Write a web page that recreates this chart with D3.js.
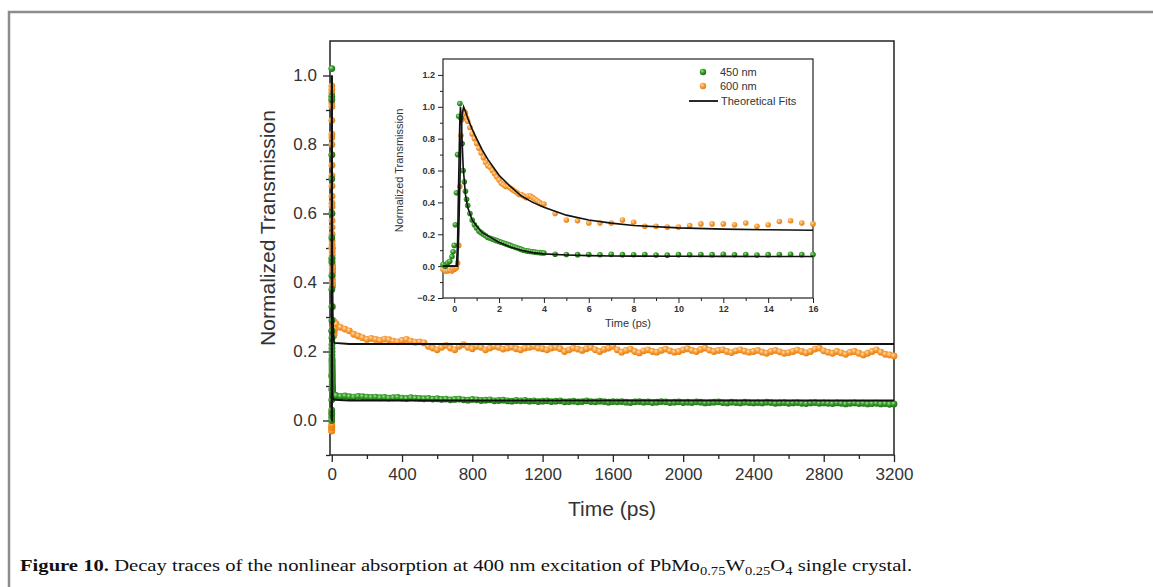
<!DOCTYPE html>
<meta charset="utf-8">
<style>
body { margin: 0; background: #fff; }
svg { display: block; font-family: "Liberation Sans", Arial, sans-serif; }
</style>
<svg width="1153" height="587"></svg>
<script src="https://cdn.jsdelivr.net/npm/d3@7/dist/d3.min.js"></script>
<script>
// ---- data ----
const seriesNames = ["450 nm", "600 nm"];
const fitName = "Theoretical Fits";

// early delay times (ps), shared by both probe wavelengths
const tEarly = [-0.5, -0.4, -0.3, -0.2, -0.1, -0.05, 0, 0.05, 0.1, 0.15, 0.2, 0.25, 0.3, 0.35, 0.4, 0.45, 0.5, 0.55,
  0.6, 0.7, 0.8, 0.9, 1.0, 1.1, 1.2, 1.3, 1.4, 1.5, 1.6, 1.7, 1.8, 1.9, 2.0, 2.1, 2.2, 2.3, 2.4, 2.5, 2.6, 2.7, 2.8, 2.9,
  3.0, 3.1, 3.2, 3.3, 3.4, 3.5, 3.6, 3.7, 3.8, 3.9, 4.0];
const v450Early = [0.01, 0.0, 0.02, 0.03, 0.06, 0.09, 0.13, 0.26, 0.46, 0.70, 0.94, 1.02, 0.93, 0.77, 0.60, 0.53, 0.47, 0.42,
  0.38, 0.33, 0.29, 0.26, 0.24, 0.22, 0.21, 0.20, 0.19, 0.18, 0.175, 0.17, 0.165, 0.16, 0.155, 0.15, 0.145, 0.14, 0.135, 0.13, 0.125, 0.12, 0.115, 0.11,
  0.105, 0.10, 0.097, 0.094, 0.092, 0.09, 0.088, 0.086, 0.085, 0.083, 0.082];
const v600Early = [-0.02, -0.03, -0.03, -0.025, -0.03, -0.02, -0.02, -0.015, -0.01, 0.02, 0.13, 0.50, 0.82, 0.92, 0.95, 0.97, 0.96, 0.93,
  0.91, 0.87, 0.83, 0.80, 0.77, 0.74, 0.71, 0.68, 0.65, 0.63, 0.62, 0.60, 0.58, 0.56, 0.54, 0.52, 0.51, 0.50, 0.50, 0.49, 0.48, 0.47, 0.46, 0.45,
  0.45, 0.44, 0.43, 0.44, 0.44, 0.43, 0.42, 0.41, 0.40, 0.39, 0.39];

// 4.5 .. 16 ps, every 0.5 ps
const tMid = d3.range(4.5, 16.01, 0.5);
const v450Mid = [0.075, 0.073, 0.072, 0.073, 0.071, 0.074, 0.072, 0.071, 0.073, 0.07, 0.069, 0.072,
  0.071, 0.073, 0.072, 0.074, 0.071, 0.073, 0.07, 0.072, 0.073, 0.074, 0.072, 0.073];
const v600Mid = [0.33, 0.29, 0.285, 0.27, 0.27, 0.27, 0.29, 0.275, 0.25, 0.25, 0.245, 0.245,
  0.255, 0.265, 0.265, 0.265, 0.26, 0.27, 0.25, 0.26, 0.28, 0.285, 0.27, 0.265];

// 25 .. 3200 ps, every 25 ps
const tLong = d3.range(25, 3201, 25);
const v450Long = [
  0.072, 0.07, 0.071, 0.069, 0.068, 0.07, 0.069, 0.068,
  0.067, 0.068, 0.066, 0.067, 0.065, 0.066, 0.067, 0.065, 0.064, 0.066, 0.065, 0.064,
  0.063, 0.064, 0.062, 0.063, 0.061, 0.062, 0.06, 0.061, 0.062, 0.06, 0.059, 0.061,
  0.06, 0.058, 0.059, 0.06, 0.057, 0.058, 0.059, 0.057, 0.056, 0.058, 0.057, 0.058, 0.056, 0.057, 0.055, 0.056,
  0.057, 0.055, 0.056, 0.057, 0.054, 0.055, 0.056, 0.054, 0.055, 0.057, 0.055, 0.054, 0.056, 0.055, 0.053, 0.055,
  0.054, 0.055, 0.053, 0.052, 0.054, 0.055, 0.053, 0.054, 0.052, 0.053, 0.055, 0.054, 0.052, 0.053, 0.054, 0.052,
  0.053, 0.052, 0.054, 0.053, 0.051, 0.052, 0.053, 0.054, 0.052, 0.051, 0.053, 0.052, 0.051, 0.053, 0.052, 0.051,
  0.052, 0.051, 0.053, 0.052, 0.05, 0.051, 0.052, 0.05, 0.051, 0.052, 0.05, 0.049, 0.051, 0.052, 0.05, 0.051,
  0.05, 0.049, 0.051, 0.05, 0.048, 0.05, 0.051, 0.049, 0.05, 0.048, 0.049, 0.05, 0.048, 0.049, 0.047, 0.048];
const v600Long = [
  0.28, 0.27, 0.265, 0.26, 0.25, 0.245, 0.24, 0.235,
  0.238, 0.235, 0.232, 0.236, 0.234, 0.23, 0.228, 0.232, 0.235, 0.23, 0.227, 0.228,
  0.225, 0.215, 0.21, 0.205, 0.212, 0.218, 0.21, 0.205, 0.215, 0.22, 0.212, 0.208,
  0.215, 0.212, 0.205, 0.21, 0.215, 0.212, 0.207, 0.21, 0.213, 0.208, 0.205, 0.21, 0.212, 0.215, 0.21, 0.208,
  0.205, 0.21, 0.212, 0.208, 0.2, 0.205, 0.21, 0.207, 0.203, 0.208, 0.212, 0.205, 0.2, 0.206, 0.21, 0.215,
  0.205, 0.198, 0.203, 0.207, 0.2, 0.196, 0.202, 0.205, 0.2, 0.198, 0.203, 0.207, 0.202, 0.198, 0.2, 0.205,
  0.208, 0.203, 0.2, 0.206, 0.21, 0.204, 0.2, 0.203, 0.205, 0.2, 0.197, 0.202, 0.205, 0.201, 0.198, 0.2,
  0.203, 0.198, 0.195, 0.2, 0.203, 0.199, 0.195, 0.197, 0.2, 0.204, 0.2, 0.196, 0.2, 0.207, 0.21, 0.202,
  0.198, 0.195, 0.2, 0.196, 0.192, 0.198, 0.2, 0.195, 0.19, 0.195, 0.2, 0.205, 0.198, 0.192, 0.19, 0.187];

// theoretical fit curves
const tFit450 = [-0.5, 0, 0.1, 0.15, 0.2, 0.25, 0.28, 0.32, 0.4, 0.5, 0.6, 0.8, 1, 1.25, 1.5, 2, 2.5, 3, 3.5, 4, 5, 6, 7, 8, 10, 12, 14, 16, 100, 3200];
const fit450 = [0, 0, 0, 0.15, 0.55, 0.92, 1.0, 0.90, 0.62, 0.45, 0.37, 0.29, 0.25, 0.21, 0.19, 0.15, 0.12, 0.10, 0.085, 0.077, 0.07, 0.066, 0.064, 0.063, 0.062, 0.061, 0.06, 0.06, 0.058, 0.058];
const tFit600 = [-0.5, 0, 0.1, 0.15, 0.2, 0.25, 0.3, 0.35, 0.42, 0.5, 0.6, 0.8, 1, 1.25, 1.5, 2, 2.5, 3, 3.5, 4, 5, 6, 7, 8, 10, 12, 14, 16, 100, 3200];
const fit600 = [0, 0, 0, 0, 0.2, 0.5, 0.8, 0.95, 1.0, 0.97, 0.93, 0.86, 0.80, 0.73, 0.67, 0.57, 0.50, 0.44, 0.40, 0.37, 0.32, 0.29, 0.27, 0.255, 0.24, 0.232, 0.228, 0.225, 0.222, 0.222];

// axis ticks
const mainXTicks = [0, 400, 800, 1200, 1600, 2000, 2400, 2800, 3200];
const mainYTicks = [0.0, 0.2, 0.4, 0.6, 0.8, 1.0];
const insetXTicks = [0, 2, 4, 6, 8, 10, 12, 14, 16];
const insetYTicks = [-0.2, 0.0, 0.2, 0.4, 0.6, 0.8, 1.0, 1.2];

// ---- drawing ----
const svg = d3.select("svg");
const green = "#2f8f22", orange = "#f7941d";

const zip = (t, v) => t.map((d, i) => ({x: d, y: v[i]}));
const pts450 = zip(tEarly, v450Early).concat(zip(tMid, v450Mid));
const pts600 = zip(tEarly, v600Early).concat(zip(tMid, v600Mid));
const long450 = pts450.concat(zip(tLong, v450Long));
const long600 = pts600.concat(zip(tLong, v600Long));
const fitA = zip(tFit450, fit450), fitB = zip(tFit600, fit600);

// sphere-look markers
const defs = svg.append("defs");
function ball(id, hi, mid, edge) {
  const g = defs.append("radialGradient").attr("id", id)
    .attr("cx", "38%").attr("cy", "35%").attr("r", "65%");
  g.append("stop").attr("offset", "0%").attr("stop-color", hi);
  g.append("stop").attr("offset", "45%").attr("stop-color", mid);
  g.append("stop").attr("offset", "100%").attr("stop-color", edge);
}
ball("gGreen", "#a8e59a", "#3a9e2c", "#1d6e14");
ball("gOrange", "#ffe0b0", "#f9a040", "#e67e0c");

// outer figure frame
svg.append("path").attr("d", "M9,587V12H1153").attr("fill", "none").attr("stroke", "#8c8c8c").attr("stroke-width", 2.5);

// main panel
const M = {left: 330, right: 894, top: 41, bottom: 455};
const x = d3.scaleLinear().domain([-10, 3200]).range([M.left, M.right]);
const y = d3.scaleLinear().domain([-0.1, 1.1]).range([M.bottom, M.top]);

const main = svg.append("g");
function styleAxis(sel, size, weight, col) {
  sel.select(".domain").remove();
  sel.selectAll("line").attr("stroke", "#222").attr("stroke-width", 1.3);
  sel.selectAll("text").attr("font-size", size).attr("font-weight", weight).attr("fill", col)
    .attr("font-family", "'Liberation Sans', Arial, sans-serif");
}
main.append("g").attr("transform", `translate(0,${M.bottom})`)
  .call(d3.axisBottom(x).tickValues(d3.range(200, 3200, 400)).tickSize(4).tickFormat(""))
  .call(s => styleAxis(s, 0, 400, "#333"));
main.append("g").attr("transform", `translate(0,${M.bottom})`)
  .call(d3.axisBottom(x).tickValues(mainXTicks).tickSize(7).tickPadding(6).tickFormat(d3.format("d")))
  .call(s => styleAxis(s, 17, 400, "#333"));
main.append("g").attr("transform", `translate(${M.left},0)`)
  .call(d3.axisLeft(y).tickValues([-0.1, 0.1, 0.3, 0.5, 0.7, 0.9]).tickSize(4).tickFormat(""))
  .call(s => styleAxis(s, 0, 400, "#333"));
main.append("g").attr("transform", `translate(${M.left},0)`)
  .call(d3.axisLeft(y).tickValues(mainYTicks).tickSize(7).tickPadding(6).tickFormat(d3.format(".1f")))
  .call(s => styleAxis(s, 17, 400, "#333"));
main.append("rect").attr("x", M.left).attr("y", M.top)
  .attr("width", M.right - M.left).attr("height", M.bottom - M.top)
  .attr("fill", "none").attr("stroke", "#222").attr("stroke-width", 1.5);

main.append("text").attr("transform", `translate(275,${(M.top + M.bottom) / 2 - 20}) rotate(-90)`)
  .attr("text-anchor", "middle").attr("font-size", 21).attr("fill", "#333").text("Normalized Transmission");
main.append("text").attr("x", (M.left + M.right) / 2).attr("y", 516)
  .attr("text-anchor", "middle").attr("font-size", 21).attr("fill", "#333").text("Time (ps)");

const lineMain = d3.line().x(d => x(d.x)).y(d => y(d.y));
main.append("g").selectAll("circle").data(long600).join("circle")
  .attr("cx", d => x(d.x)).attr("cy", d => y(d.y)).attr("r", 3.4).attr("fill", "url(#gOrange)");
main.append("g").selectAll("circle").data(long450).join("circle")
  .attr("cx", d => x(d.x)).attr("cy", d => y(d.y)).attr("r", 3.4).attr("fill", "url(#gGreen)");
[fitB, fitA].forEach(f => main.append("path").attr("d", lineMain(f))
  .attr("fill", "none").attr("stroke", "#111").attr("stroke-width", 2));

// inset panel
const I = {left: 443, right: 813, top: 59, bottom: 298};
const xi = d3.scaleLinear().domain([-0.5, 16]).range([I.left, I.right]);
const yi = d3.scaleLinear().domain([-0.2, 1.3]).range([I.bottom, I.top]);
const inset = svg.append("g");
inset.append("rect").attr("x", I.left).attr("y", I.top)
  .attr("width", I.right - I.left).attr("height", I.bottom - I.top).attr("fill", "#fff");

inset.append("g").attr("transform", `translate(0,${I.bottom})`)
  .call(d3.axisBottom(xi).tickValues(d3.range(1, 16, 2)).tickSize(3).tickFormat(""))
  .call(s => styleAxis(s, 0, 700, "#333"));
inset.append("g").attr("transform", `translate(0,${I.bottom})`)
  .call(d3.axisBottom(xi).tickValues(insetXTicks).tickSize(5).tickPadding(3).tickFormat(d3.format("d")))
  .call(s => styleAxis(s, 9, 700, "#333"));
inset.append("g").attr("transform", `translate(${I.left},0)`)
  .call(d3.axisLeft(yi).tickValues([-0.1, 0.1, 0.3, 0.5, 0.7, 0.9, 1.1]).tickSize(3).tickFormat(""))
  .call(s => styleAxis(s, 0, 700, "#333"));
inset.append("g").attr("transform", `translate(${I.left},0)`)
  .call(d3.axisLeft(yi).tickValues(insetYTicks).tickSize(5).tickPadding(3).tickFormat(d3.format(".1f")))
  .call(s => styleAxis(s, 9, 700, "#333"));
inset.selectAll("line").attr("stroke-width", 1);
inset.append("rect").attr("x", I.left).attr("y", I.top)
  .attr("width", I.right - I.left).attr("height", I.bottom - I.top)
  .attr("fill", "none").attr("stroke", "#222").attr("stroke-width", 1.2);

inset.append("text").attr("transform", `translate(403,${(I.top + I.bottom) / 2 - 8}) rotate(-90)`)
  .attr("text-anchor", "middle").attr("font-size", 11).attr("fill", "#333").text("Normalized Transmission");
inset.append("text").attr("x", (I.left + I.right) / 2).attr("y", 327)
  .attr("text-anchor", "middle").attr("font-size", 11).attr("fill", "#333").text("Time (ps)");

const lineIn = d3.line().x(d => xi(d.x)).y(d => yi(d.y));
inset.append("g").selectAll("circle").data(pts600).join("circle")
  .attr("cx", d => xi(d.x)).attr("cy", d => yi(d.y)).attr("r", 2.8).attr("fill", "url(#gOrange)");
inset.append("g").selectAll("circle").data(pts450).join("circle")
  .attr("cx", d => xi(d.x)).attr("cy", d => yi(d.y)).attr("r", 2.8).attr("fill", "url(#gGreen)");
[fitB, fitA].forEach(f => inset.append("path").attr("d", lineIn(f.filter(d => d.x <= 16)))
  .attr("fill", "none").attr("stroke", "#111").attr("stroke-width", 1.6));

// legend
const leg = inset.append("g").attr("font-size", 11).attr("fill", "#333");
[["url(#gGreen)", seriesNames[0], 72], ["url(#gOrange)", seriesNames[1], 86]].forEach(([f, name, yy]) => {
  leg.append("circle").attr("cx", 703).attr("cy", yy).attr("r", 3.2).attr("fill", f);
  leg.append("text").attr("x", 720).attr("y", yy + 4).text(name);
});
leg.append("line").attr("x1", 689).attr("x2", 718).attr("y1", 101).attr("y2", 101)
  .attr("stroke", "#111").attr("stroke-width", 1.8);
leg.append("text").attr("x", 721).attr("y", 105).text(fitName);

// caption
const cap = svg.append("text").attr("x", 20).attr("y", 571)
  .attr("font-family", "'Liberation Serif', 'DejaVu Serif', serif").attr("font-size", 17).attr("fill", "#111");
cap.append("tspan").attr("font-weight", "bold").text("Figure 10.");
cap.append("tspan").text(" Decay traces of the nonlinear absorption at 400 nm excitation of PbMo");
cap.append("tspan").attr("font-size", 12).attr("dy", 4).text("0.75");
cap.append("tspan").attr("dy", -4).text("W");
cap.append("tspan").attr("font-size", 12).attr("dy", 4).text("0.25");
cap.append("tspan").attr("dy", -4).text("O");
cap.append("tspan").attr("font-size", 12).attr("dy", 4).text("4");
cap.append("tspan").attr("dy", -4).text(" single crystal.");
const cw = cap.node().getComputedTextLength();
cap.attr("transform", `translate(20,0) scale(${893 / cw},1) translate(-20,0)`);
</script>
